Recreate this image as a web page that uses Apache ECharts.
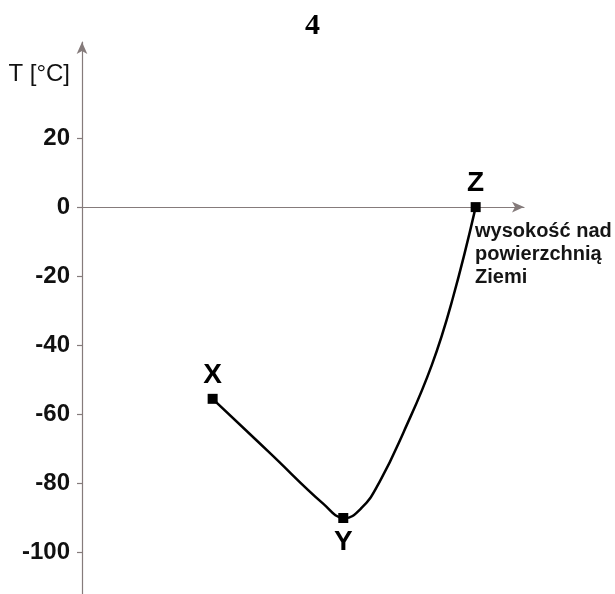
<!DOCTYPE html>
<html>
<head>
<meta charset="utf-8">
<script src="https://cdn.jsdelivr.net/npm/echarts@6/dist/echarts.min.js"></script>
<style>
html,body{margin:0;padding:0;background:#fff;}
#chart{width:615px;height:594px;}
</style>
</head>
<body>
<div id="chart"></div>
<script>
// Height above surface (arbitrary units, axis has no labels)
var heights = [30, 43, 55.5, 60, 64.2, 68.4, 73.9, 80.3, 85.1, 90.4];
// Temperature [°C]
var temps = [-55.5, -71, -86, -90, -87.1, -79.4, -65.0, -45.8, -26.6, 0];
// Point names (empty = curve-only point)
var pointNames = ['X', '', '', 'Y', '', '', '', '', '', 'Z'];
var labelSides = ['top', '', '', 'bottom', '', '', '', '', '', 'top'];
// Y tick labels
var yTicks = [-100, -80, -60, -40, -20, 0, 20];

var curveData = heights.map(function (h, i) { return [h, temps[i]]; });

var markerData = [];
heights.forEach(function (h, i) {
  if (pointNames[i] !== '') {
    markerData.push({
      value: [h, temps[i]],
      name: pointNames[i],
      label: {position: labelSides[i], distance: 5}
    });
  }
});

var chart = echarts.init(document.getElementById('chart'), null, {renderer: 'canvas'});
chart.setOption({
  backgroundColor: '#ffffff',
  animation: false,
  title: {
    text: '4',
    left: 300,
    top: 6,
    textStyle: {fontFamily: 'Liberation Serif', fontWeight: 'bold', fontSize: 30, color: '#000'}
  },
  grid: {left: 82, top: 42, width: 442, height: 554.3, containLabel: false},
  xAxis: {
    type: 'value',
    min: 0,
    max: 101.5,
    axisLine: {show: true, onZero: true, symbol: ['none', 'arrow'], symbolSize: [8, 12],
      lineStyle: {color: '#857b7b', width: 1.2}},
    axisTick: {show: false},
    axisLabel: {show: false},
    splitLine: {show: false},
    name: 'wysokość nad\npowierzchnią\nZiemi',
    nameLocation: 'end',
    nameGap: -49,
    nameTextStyle: {
      align: 'left', verticalAlign: 'top', padding: [13, 0, 0, 0],
      fontFamily: 'Liberation Sans', fontWeight: 'bold', fontSize: 20, lineHeight: 23, color: '#151515'
    }
  },
  yAxis: {
    type: 'value',
    min: -112,
    max: 47.8,
    axisLine: {show: true, onZero: false, symbol: ['none', 'arrow'], symbolSize: [8, 12],
      lineStyle: {color: '#857b7b', width: 1.2}},
    axisTick: {show: true, length: 5, customValues: yTicks, lineStyle: {color: '#857b7b', width: 1.2}},
    axisLabel: {show: true, customValues: yTicks, margin: 12,
      fontFamily: 'Liberation Sans', fontWeight: 'bold', fontSize: 24, color: '#111'},
    splitLine: {show: false},
    name: 'T [°C]',
    nameLocation: 'end',
    nameGap: -32,
    nameTextStyle: {
      align: 'right', verticalAlign: 'middle', padding: [0, 12, 0, 0],
      fontFamily: 'Liberation Sans', fontSize: 24, color: '#111'
    }
  },
  series: [{
    type: 'custom',
    clip: false,
    data: curveData,
    renderItem: function (params, api) {
      if (params.dataIndex !== 0) return null;
      var pts = curveData.map(function (d) { return api.coord(d); });
      return {
        type: 'polyline',
        shape: {points: pts, smooth: 0.45},
        style: {stroke: '#000', lineWidth: 2.5, fill: null, lineJoin: 'round', lineCap: 'round'},
        z2: 1
      };
    },
    z: 4
  }, {
    type: 'scatter',
    data: markerData,
    symbol: 'rect',
    symbolSize: 10,
    itemStyle: {color: '#000', opacity: 1},
    label: {
      show: true,
      formatter: function (p) { return p.name; },
      fontFamily: 'Liberation Sans', fontWeight: 'bold', fontSize: 28, color: '#000'
    },
    z: 5
  }]
});
</script>
</body>
</html>
